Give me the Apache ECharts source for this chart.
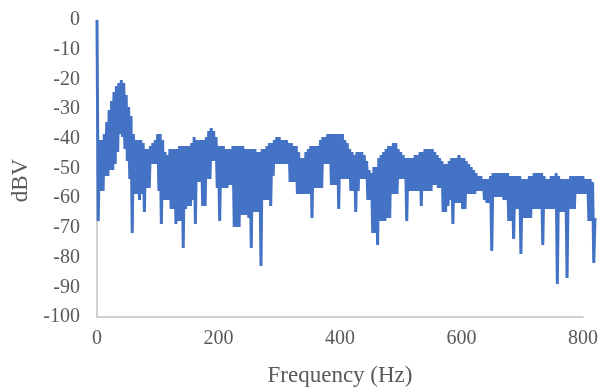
<!DOCTYPE html>
<html>
<head>
<meta charset="utf-8">
<script src="https://cdn.jsdelivr.net/npm/echarts@6/dist/echarts.min.js"></script>
<style>
  html, body { margin: 0; padding: 0; background: #fff; }
  #chart { width: 615px; height: 392px; }
</style>
</head>
<body>
<div id="chart"></div>
<script>
// spectrum samples 2 Hz apart
// (each line = 20 Hz, alternating envelope peak / dip)
const stepHz = 2
const dbv = [
  0, -67, -40, -57, -40, -57, -38, -52, -34, -52,      // 0
  -30, -50, -27, -50, -24, -48, -22, -44, -21, -38,    // 20
  -20, -39, -21, -43, -25, -47, -29, -53, -32, -71,    // 40
  -38, -58, -40, -58, -40, -60, -40, -58, -41, -64,    // 60
  -43, -56, -43, -56, -42, -48, -41, -48, -40, -48,    // 80
  -38, -57, -38, -68, -40, -60, -44, -60, -45, -60,    // 100
  -43, -63, -43, -63, -43, -68, -43, -67, -42, -67,    // 120
  -42, -76, -42, -63, -42, -62, -42, -62, -41, -60,    // 140
  -39, -68, -40, -54, -40, -54, -40, -62, -40, -62,    // 160
  -39, -53, -37, -53, -36, -47, -37, -47, -39, -56,    // 180
  -42, -67, -42, -56, -42, -56, -43, -56, -43, -55,    // 200
  -43, -55, -42, -69, -42, -69, -42, -69, -42, -65,    // 220
  -42, -65, -43, -65, -43, -66, -43, -76, -43, -64,    // 240
  -43, -64, -44, -64, -44, -82, -43, -60, -43, -60,    // 260
  -42, -60, -41, -62, -41, -52, -40, -48, -39, -48,    // 280
  -39, -48, -40, -48, -40, -48, -40, -48, -41, -54,    // 300
  -41, -54, -42, -54, -42, -58, -44, -58, -46, -58,    // 320
  -46, -58, -44, -58, -43, -58, -42, -66, -42, -56,    // 340
  -42, -56, -42, -56, -40, -56, -39, -48, -39, -48,    // 360
  -38, -48, -38, -55, -38, -55, -38, -55, -38, -63,    // 380
  -38, -53, -38, -53, -40, -53, -41, -53, -43, -57,    // 400
  -44, -57, -45, -64, -44, -57, -44, -53, -44, -53,    // 420
  -45, -53, -47, -60, -50, -60, -51, -71, -49, -71,    // 440
  -49, -75, -46, -67, -45, -67, -44, -67, -43, -66,    // 460
  -42, -66, -42, -58, -41, -58, -41, -58, -43, -53,    // 480
  -44, -53, -45, -53, -46, -67, -46, -57, -46, -57,    // 500
  -46, -57, -45, -57, -45, -57, -44, -62, -44, -57,    // 520
  -43, -57, -43, -57, -43, -57, -43, -55, -44, -55,    // 540
  -45, -56, -46, -56, -47, -64, -48, -64, -48, -62,    // 560
  -47, -60, -46, -68, -46, -61, -46, -61, -45, -61,    // 580
  -46, -63, -46, -63, -47, -58, -48, -58, -49, -58,    // 600
  -50, -58, -51, -57, -52, -57, -52, -57, -53, -60,    // 620
  -53, -61, -53, -61, -52, -77, -51, -59, -51, -59,    // 640
  -51, -59, -51, -59, -51, -60, -51, -60, -51, -67,    // 660
  -52, -67, -52, -73, -52, -63, -52, -63, -52, -78,    // 680
  -53, -66, -53, -66, -53, -66, -52, -66, -52, -63,    // 700
  -51, -63, -51, -63, -51, -63, -51, -75, -52, -63,    // 720
  -53, -63, -53, -63, -52, -63, -52, -63, -51, -88,    // 740
  -52, -64, -53, -64, -53, -64, -53, -86, -53, -63,    // 760
  -52, -63, -52, -63, -52, -58, -52, -58, -52, -58,    // 780
  -52, -58, -53, -58, -53, -67, -53, -67, -54, -81,    // 800
  -66                                                  // 820
]

const xTicks = [0, 200, 400, 600, 800]
const yTicks = [0, -10, -20, -30, -40, -50, -60, -70, -80, -90, -100]
const lastHz = 820 // the trace runs a little past the 800 tick

const points = dbv.map((v, i) => [i * stepHz, v])

const chart = echarts.init(document.getElementById("chart"))
const labelFont = "'Liberation Serif', 'Times New Roman', serif"
const textColor = "#595959"
const axisGray = "#bfbfbf"

const option = {
  animation: false,
  grid: [
    // visible axes
    { left: 97, right: 32, top: 20, bottom: 72 },
    // same scale, a bit wider, so the trace can overrun 800 Hz
    { left: 97, right: 20, top: 20, bottom: 72 },
  ],
  xAxis: [
    {
      type: "value",
      gridIndex: 0,
      min: xTicks[0],
      max: xTicks[xTicks.length - 1],
      interval: 200,
      name: "Frequency (Hz)",
      nameLocation: "middle",
      nameGap: 47,
      nameTextStyle: { color: textColor, fontFamily: labelFont, fontSize: 23 },
      axisLine: { show: true, onZero: false, lineStyle: { color: axisGray, width: 1.5 } },
      axisTick: { show: false },
      splitLine: { show: false },
      axisLabel: { color: textColor, fontFamily: labelFont, fontSize: 20, margin: 12 },
    },
    {
      type: "value",
      gridIndex: 1,
      min: 0,
      max: lastHz,
      show: false,
    },
  ],
  yAxis: [
    {
      type: "value",
      gridIndex: 0,
      min: yTicks[yTicks.length - 1],
      max: yTicks[0],
      interval: 10,
      name: "dBV",
      nameLocation: "middle",
      nameRotate: 90,
      nameGap: 64,
      nameTextStyle: {
        color: textColor,
        fontFamily: labelFont,
        fontSize: 23,
        padding: [0, 24, 0, 0],
      },
      axisLine: { show: true, onZero: false, lineStyle: { color: axisGray, width: 1.5 } },
      axisTick: { show: false },
      splitLine: { show: false },
      axisLabel: { color: textColor, fontFamily: labelFont, fontSize: 20, margin: 17 },
    },
    {
      type: "value",
      gridIndex: 1,
      min: yTicks[yTicks.length - 1],
      max: yTicks[0],
      show: false,
    },
  ],
  series: [
    {
      name: "dBV",
      type: "line",
      xAxisIndex: 1,
      yAxisIndex: 1,
      data: points,
      showSymbol: false,
      lineStyle: { color: "#4472c4", width: 3 },
    },
  ],
}

chart.setOption(option)
</script>
</body>
</html>
